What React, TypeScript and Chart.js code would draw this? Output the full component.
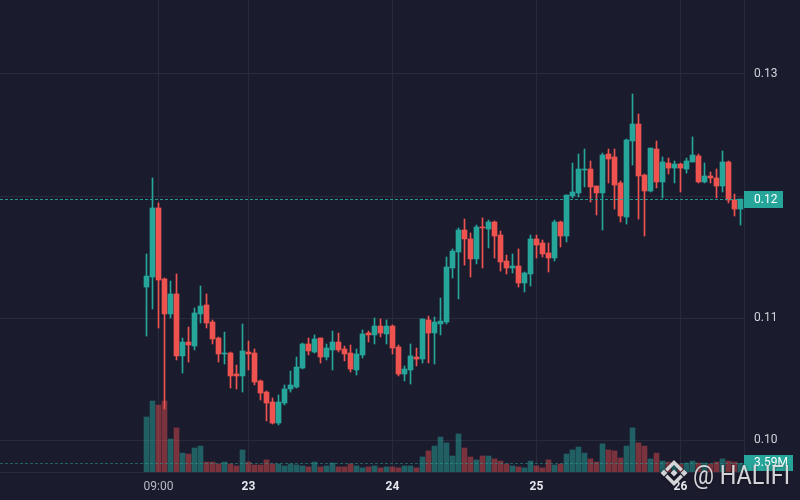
import React, { useEffect, useRef } from "react";
import { Chart, registerables } from "chart.js";

Chart.register(...registerables);

// ---- data (hourly candles, starting 22nd 07:00) ----
const OPEN = [
  0.11254, 0.11336, 0.11902, 0.1132, 0.11033, 0.11197, 0.10689, 0.10803, 0.1077, 0.11033,
  0.11107, 0.10967, 0.10836, 0.10705, 0.10713, 0.10541, 0.10525, 0.10721, 0.10713, 0.10484,
  0.10393, 0.10311, 0.10139, 0.10303, 0.10418, 0.10434, 0.1059, 0.10787, 0.10721, 0.10836,
  0.1068, 0.10738, 0.10803, 0.10746, 0.10713, 0.10574, 0.10697, 0.10877, 0.10861, 0.10934,
  0.10869, 0.10934, 0.10762, 0.10541, 0.10574, 0.1068, 0.10664, 0.10984, 0.10877, 0.10951,
  0.10967, 0.1141, 0.11541, 0.11721, 0.11648, 0.11484, 0.11746, 0.11729, 0.11787, 0.1168,
  0.11467, 0.1141, 0.11426, 0.11287, 0.11361, 0.11648, 0.11615, 0.11533, 0.11492, 0.11787,
  0.11672, 0.12, 0.12025, 0.12213, 0.12221, 0.12082, 0.12025, 0.12344, 0.1232, 0.12107,
  0.11828, 0.12451, 0.1259, 0.12172, 0.12041, 0.12385, 0.12115, 0.1227, 0.12229, 0.12262,
  0.12221, 0.12279, 0.12328, 0.12115, 0.12164, 0.12148, 0.12082, 0.12279, 0.11967, 0.11893,
];
const HIGH = [
  0.11525, 0.12148, 0.11943, 0.11328, 0.11303, 0.11361, 0.10836, 0.10926, 0.11082, 0.11262,
  0.11197, 0.10984, 0.10844, 0.10885, 0.10721, 0.10615, 0.10951, 0.10811, 0.10746, 0.10492,
  0.10402, 0.10344, 0.10369, 0.10451, 0.10565, 0.1068, 0.10795, 0.10836, 0.10861, 0.10836,
  0.10787, 0.10893, 0.10877, 0.1077, 0.10779, 0.10746, 0.10902, 0.10893, 0.11, 0.10992,
  0.10984, 0.10943, 0.10779, 0.10607, 0.10787, 0.10754, 0.10992, 0.11016, 0.11008, 0.11164,
  0.115, 0.11566, 0.11738, 0.11811, 0.11697, 0.11762, 0.1182, 0.11803, 0.11795, 0.11713,
  0.11516, 0.11525, 0.11566, 0.11377, 0.1168, 0.1168, 0.11639, 0.11615, 0.11803, 0.11795,
  0.12008, 0.1227, 0.12344, 0.12385, 0.12287, 0.12082, 0.12352, 0.12385, 0.12385, 0.12123,
  0.12467, 0.12836, 0.12672, 0.1218, 0.12393, 0.12451, 0.1232, 0.12311, 0.12287, 0.1227,
  0.12311, 0.12484, 0.12344, 0.1227, 0.12197, 0.12221, 0.12369, 0.12287, 0.12016, 0.11975,
];
const LOW = [
  0.10852, 0.11074, 0.10918, 0.10254, 0.11, 0.10656, 0.10549, 0.10639, 0.10738, 0.10959,
  0.10918, 0.10787, 0.10639, 0.10623, 0.10426, 0.10418, 0.10393, 0.10574, 0.10451, 0.10328,
  0.10156, 0.10131, 0.10123, 0.10287, 0.10393, 0.10426, 0.10582, 0.10697, 0.10713, 0.10631,
  0.10656, 0.10574, 0.10721, 0.10648, 0.10557, 0.10533, 0.10672, 0.10803, 0.10787, 0.10844,
  0.10787, 0.10705, 0.10525, 0.10484, 0.10459, 0.10607, 0.10631, 0.10631, 0.10623, 0.10861,
  0.10951, 0.11328, 0.11156, 0.11434, 0.11336, 0.11443, 0.1141, 0.11574, 0.11492, 0.11385,
  0.11361, 0.11369, 0.11254, 0.11213, 0.11262, 0.11492, 0.115, 0.11377, 0.11467, 0.11582,
  0.11623, 0.11984, 0.11992, 0.12074, 0.11951, 0.11844, 0.11721, 0.12107, 0.11893, 0.11787,
  0.1177, 0.12254, 0.11811, 0.11672, 0.12033, 0.12066, 0.11984, 0.1218, 0.12107, 0.12033,
  0.12188, 0.12279, 0.12107, 0.12107, 0.12107, 0.11984, 0.12033, 0.11943, 0.11836, 0.11762,
];
const CLOSE = [
  0.11344, 0.11902, 0.11311, 0.11033, 0.11197, 0.10689, 0.10803, 0.10779, 0.11041, 0.11098,
  0.10959, 0.10828, 0.10705, 0.10713, 0.10525, 0.10525, 0.1073, 0.10705, 0.10475, 0.10385,
  0.10303, 0.10139, 0.10311, 0.10418, 0.10451, 0.10598, 0.10787, 0.1073, 0.10828, 0.1068,
  0.10754, 0.10803, 0.10738, 0.10705, 0.10582, 0.10705, 0.10869, 0.10861, 0.10934, 0.10877,
  0.10934, 0.10754, 0.10541, 0.10582, 0.10689, 0.10664, 0.10992, 0.10877, 0.10967, 0.10975,
  0.11418, 0.11549, 0.11721, 0.11648, 0.11484, 0.11746, 0.11738, 0.11787, 0.11672, 0.11459,
  0.1141, 0.11426, 0.11287, 0.11369, 0.11648, 0.11598, 0.11525, 0.11492, 0.11787, 0.11672,
  0.12008, 0.12033, 0.12221, 0.12221, 0.12074, 0.12025, 0.12336, 0.12303, 0.1209, 0.11836,
  0.12459, 0.1259, 0.12164, 0.12041, 0.12393, 0.12115, 0.12279, 0.12229, 0.12262, 0.12229,
  0.12287, 0.12336, 0.12115, 0.12164, 0.12148, 0.12082, 0.12279, 0.11967, 0.11893, 0.11975,
];
// volume in millions
const VOLUME_M = [
  22.7, 29.3, 27.6, 29.3, 13.6, 18.2, 7.8, 7.4, 9.9, 10.7,
  4.1, 4.1, 3.3, 4.1, 3.3, 2.5, 9.1, 4.1, 2.9, 2.9,
  5.0, 3.3, 3.3, 2.5, 3.3, 2.9, 2.5, 2.1, 4.1, 2.1,
  2.5, 3.7, 2.1, 2.1, 3.3, 2.5, 1.7, 2.1, 2.5, 1.7,
  2.1, 2.1, 1.7, 2.5, 2.5, 1.7, 6.2, 8.7, 10.7, 14.4,
  12.0, 6.6, 15.7, 9.9, 6.2, 5.0, 6.6, 6.6, 5.4, 4.5,
  3.3, 2.5, 2.1, 1.7, 4.5, 2.5, 1.7, 5.0, 2.9, 3.3,
  7.4, 9.1, 10.3, 7.8, 5.4, 4.1, 11.6, 9.1, 8.7, 5.8,
  10.7, 18.2, 12.0, 10.7, 5.4, 7.8, 4.5, 4.1, 3.3, 3.3,
  3.7, 4.5, 3.7, 3.7, 3.3, 4.1, 5.4, 4.5, 4.1, 3.59,
];
const TIME_TICK_INDEX = [2, 17, 41, 65, 89];
const TIME_TICK_LABELS = ["09:00", "23", "24", "25", "26"];
const PRICE_TICKS = [0.1, 0.11, 0.12, 0.13];
const WATERMARK = "@ HALIFI";

// ---- styles ----
const BG = "#1b1b2e";
const GRID = "#2a2a3d";
const UP = "#26a69a";
const DOWN = "#ef5350";
const UP_VOL = "rgba(38,166,154,0.5)";
const DOWN_VOL = "rgba(239,83,80,0.45)";
const FONT = 'Roboto, "Noto Sans", "DejaVu Sans", sans-serif';

const isUp = (i: number) => CLOSE[i] >= OPEN[i];
const LAST = CLOSE.length - 1;

const overlayPlugin = {
  id: "overlay",
  beforeDraw(chart: any) {
    const { ctx, width, height } = chart;
    ctx.save();
    ctx.fillStyle = BG;
    ctx.fillRect(0, 0, width, height);
    ctx.restore();
  },
  afterDatasetsDraw(chart: any) {
    const { ctx, chartArea } = chart;
    const py = Math.round(chart.scales.y.getPixelForValue(CLOSE[LAST])) + 0.5;
    const vy = Math.round(chart.scales.yVol.getPixelForValue(VOLUME_M[LAST])) + 0.5;
    ctx.save();
    ctx.lineWidth = 1;
    ctx.setLineDash([3, 2]);
    ctx.strokeStyle = isUp(LAST) ? "rgba(38,166,154,0.9)" : DOWN;
    ctx.beginPath();
    ctx.moveTo(chartArea.left, py);
    ctx.lineTo(chartArea.right, py);
    ctx.stroke();
    ctx.strokeStyle = "rgba(38,166,154,0.5)";
    ctx.beginPath();
    ctx.moveTo(chartArea.left, vy);
    ctx.lineTo(chartArea.right, vy);
    ctx.stroke();
    ctx.restore();
  },
  afterDraw(chart: any) {
    const { ctx, chartArea } = chart;
    const py = chart.scales.y.getPixelForValue(CLOSE[LAST]);
    const vy = chart.scales.yVol.getPixelForValue(VOLUME_M[LAST]);
    const x0 = chartArea.right;
    ctx.save();
    // price label
    ctx.fillStyle = isUp(LAST) ? UP : DOWN;
    ctx.fillRect(x0, Math.round(py - 8.5), 39, 17);
    ctx.fillStyle = "#ffffff";
    ctx.font = `12px ${FONT}`;
    ctx.textBaseline = "middle";
    ctx.textAlign = "left";
    ctx.fillText(CLOSE[LAST].toFixed(2), x0 + 10, py + 0.5);
    // volume label
    ctx.fillStyle = UP;
    ctx.fillRect(x0, Math.round(vy - 8), 49, 16);
    ctx.fillStyle = "#ffffff";
    ctx.fillText(VOLUME_M[LAST].toFixed(2) + "M", x0 + 10, vy);

    // watermark
    const cx = 674;
    const cy = 473;
    ctx.shadowColor = "rgba(0,0,0,0.6)";
    ctx.shadowBlur = 3;
    ctx.fillStyle = "rgba(228,228,232,0.92)";
    const diamond = (x: number, y: number, r: number) => {
      ctx.beginPath();
      ctx.moveTo(x, y - r);
      ctx.lineTo(x + r, y);
      ctx.lineTo(x, y + r);
      ctx.lineTo(x - r, y);
      ctx.closePath();
      ctx.fill();
    };
    diamond(cx, cy, 3.5);
    diamond(cx - 10, cy, 3.5);
    diamond(cx + 10, cy, 3.5);
    const chevron = (dir: number) => {
      ctx.beginPath();
      ctx.moveTo(cx - 9, cy + dir * 4);
      ctx.lineTo(cx, cy + dir * 13);
      ctx.lineTo(cx + 9, cy + dir * 4);
      ctx.lineTo(cx + 6.5, cy + dir * 1.5);
      ctx.lineTo(cx, cy + dir * 8);
      ctx.lineTo(cx - 6.5, cy + dir * 1.5);
      ctx.closePath();
      ctx.fill();
    };
    chevron(-1);
    chevron(1);
    ctx.font = `26px ${FONT}`;
    ctx.textBaseline = "alphabetic";
    ctx.textAlign = "left";
    ctx.fillText(WATERMARK, 693, 484, 97);
    ctx.restore();
  },
};

export default function App() {
  const ref = useRef<HTMLCanvasElement>(null);

  useEffect(() => {
    document.body.style.margin = "0";
    const canvas = ref.current;
    if (!canvas) return;
    const idx = OPEN.map((_, i) => i);
    const candleColors = idx.map((i) => (isUp(i) ? UP : DOWN));
    const volColors = idx.map((i) => (isUp(i) ? UP_VOL : DOWN_VOL));

    const chart = new Chart(canvas, {
      type: "bar",
      data: {
        datasets: [
          {
            label: "bodies",
            data: idx.map((i) => ({ x: i, y: [OPEN[i], CLOSE[i]] })) as any,
            backgroundColor: candleColors,
            barThickness: 5,
            minBarLength: 1,
            grouped: false,
            yAxisID: "y",
            order: 1,
          },
          {
            label: "wicks",
            data: idx.map((i) => ({ x: i, y: [LOW[i], HIGH[i]] })) as any,
            backgroundColor: candleColors,
            barThickness: 1,
            grouped: false,
            yAxisID: "y",
            order: 2,
          },
          {
            label: "volume",
            data: idx.map((i) => ({ x: i, y: VOLUME_M[i] })) as any,
            backgroundColor: volColors,
            barThickness: 5,
            grouped: false,
            yAxisID: "yVol",
            order: 3,
          },
        ],
      },
      options: {
        animation: false,
        responsive: false,
        layout: { padding: 0 },
        plugins: { legend: { display: false }, tooltip: { enabled: false } },
        scales: {
          x: {
            type: "linear",
            min: -146.5 / 6,
            max: -146.5 / 6 + 124,
            offset: false,
            grid: { color: GRID, drawTicks: false, offset: false },
            border: { display: true, color: GRID },
            afterBuildTicks: (scale: any) => {
              scale.ticks = TIME_TICK_INDEX.map((v) => ({ value: v }));
            },
            afterFit: (scale: any) => {
              scale.height = 28;
              scale.paddingLeft = 0;
              scale.paddingRight = 0;
            },
            ticks: {
              padding: 8,
              autoSkip: false,
              maxRotation: 0,
              callback: (v: any) => {
                const k = TIME_TICK_INDEX.indexOf(Number(v));
                return k >= 0 ? TIME_TICK_LABELS[k] : "";
              },
              color: (c: any) => (c.index === 0 ? "#b8bac4" : "#e6e8ee"),
              font: (c: any) => ({
                family: FONT,
                size: 12,
                weight: c.index === 0 ? "normal" : "bold",
              }),
            },
          },
          y: {
            position: "right",
            min: 0.13 - 398 / 12200,
            max: 0.13 + 74 / 12200,
            grid: { color: GRID, drawTicks: false },
            border: { display: true, color: GRID },
            afterBuildTicks: (scale: any) => {
              scale.ticks = PRICE_TICKS.map((v) => ({ value: v }));
            },
            afterFit: (scale: any) => {
              scale.width = 56;
              scale.paddingTop = 0;
              scale.paddingBottom = 0;
            },
            ticks: {
              padding: 10,
              color: "#d1d3da",
              font: { family: FONT, size: 12 },
              // the last-price label box covers the tick it overlaps
              callback: (v: any) =>
                Math.abs(Number(v) - CLOSE[LAST]) < 0.0012 ? "" : Number(v).toFixed(2),
            },
          },
          yVol: {
            display: false,
            position: "left",
            min: 0,
            max: 194.8,
            grid: { display: false },
          },
        },
      },
      plugins: [overlayPlugin],
    });
    return () => chart.destroy();
  }, []);

  return (
    <div style={{ position: "fixed", left: 0, top: 0, width: 800, height: 500 }}>
      <canvas ref={ref} width={800} height={500} style={{ width: 800, height: 500, display: "block" }} />
    </div>
  );
}
